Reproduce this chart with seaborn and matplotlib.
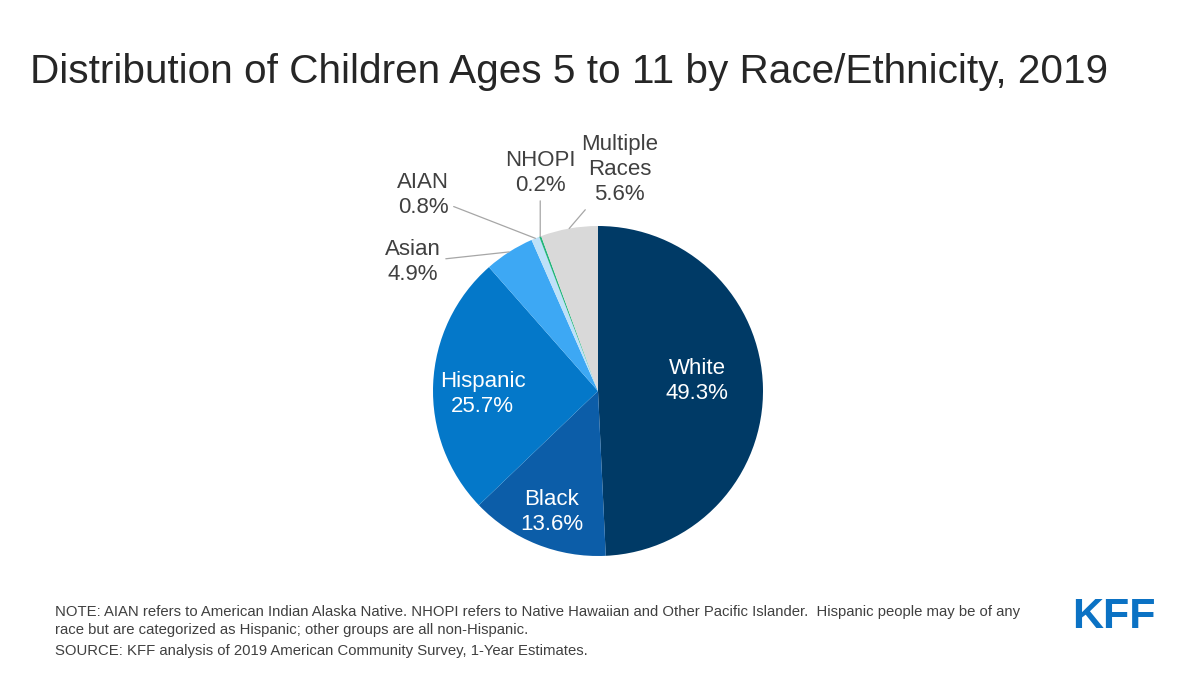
import numpy as np
import matplotlib
matplotlib.use("Agg")
import matplotlib.pyplot as plt
import seaborn as sns

sns.set_theme(style="white")
plt.rcParams['font.family'] = ['Liberation Sans', 'DejaVu Sans']

# Data
groups = ["White", "Black", "Hispanic", "Asian", "AIAN", "NHOPI", "Multiple\nRaces"]
shares = [49.3, 13.6, 25.7, 4.9, 0.8, 0.2, 5.6]
colors = ["#003A66", "#0C5DA8", "#0478C9", "#3DA8F4", "#BEE1F8", "#22B57A", "#D9D9D9"]

title = "Distribution of Children Ages 5 to 11 by Race/Ethnicity, 2019"
note = ("NOTE: AIAN refers to American Indian Alaska Native. NHOPI refers to Native Hawaiian and Other Pacific Islander.  "
        "Hispanic people may be of any\nrace but are categorized as Hispanic; other groups are all non-Hispanic.")
source = "SOURCE: KFF analysis of 2019 American Community Survey, 1-Year Estimates."

# label placement: inside labels by radius (+ small vertical nudge), outside labels by position
inside_r = {"White": (0.60, 0.045), "Black": (0.76, -0.025), "Hispanic": (0.70, -0.05)}
outside_pos = {"Asian": (-1.12, 0.78), "AIAN": (-1.06, 1.19),
               "NHOPI": (-0.35, 1.32), "Multiple\nRaces": (0.13, 1.34)}

fig = plt.figure(figsize=(12, 6.75), dpi=100)
ax = fig.add_axes([433 / 1200, (675 - 556) / 675, 330 / 1200, 330 / 675])

wedges, _ = ax.pie(shares, colors=colors, startangle=90, counterclock=False,
                   radius=1, wedgeprops=dict(linewidth=0))
ax.set_xlim(-1, 1)
ax.set_ylim(-1, 1)
ax.set_aspect("equal")
ax.axis("off")

for w, g, v in zip(wedges, groups, shares):
    mid = np.deg2rad((w.theta1 + w.theta2) / 2)
    txt = f"{g}\n{v:.1f}%"
    if g in inside_r:
        r, dy = inside_r[g]
        ax.text(r * np.cos(mid), r * np.sin(mid) + dy, txt, ha="center", va="center",
                fontsize=16, color="white", linespacing=1.25)
    else:
        ax.annotate(txt, xy=(np.cos(mid), np.sin(mid)), xytext=outside_pos[g],
                    ha="center", va="center", fontsize=16, color="#404040",
                    linespacing=1.25, annotation_clip=False,
                    arrowprops=dict(arrowstyle="-", color="#A6A6A6", lw=0.9,
                                    shrinkA=1, shrinkB=0))

fig.text(30 / 1200, 1 - 72 / 675, title, ha="left", va="center", fontsize=29.2, color="#262626")
fig.text(55 / 1200, 1 - 605 / 675, note, ha="left", va="top", fontsize=10.7,
         color="#404040", linespacing=1.4)
fig.text(55 / 1200, 1 - 651 / 675, source, ha="left", va="center", fontsize=10.7, color="#404040")
fig.text(1114 / 1200, 1 - 617 / 675, "KFF", ha="center", va="center", fontsize=31,
         fontweight="bold", color="#0B72C4", fontstretch="condensed")

fig.savefig("out.png", dpi=100)
